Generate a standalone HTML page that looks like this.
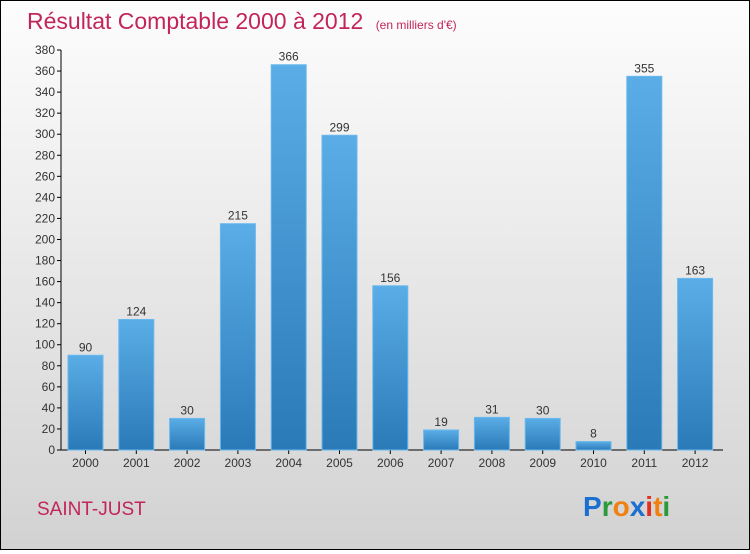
<!DOCTYPE html>
<html><head><meta charset="utf-8"><style>
body{margin:0;width:750px;height:550px;overflow:hidden;font-family:"Liberation Sans",sans-serif}
#wrap{position:absolute;left:0;top:0;width:748px;height:548px;border:1px solid #000;background:linear-gradient(#fdfdfd,#d2d2d2)}
</style></head><body>
<div id="wrap">
<svg width="748" height="548">
<defs><linearGradient id="bg" x1="0" y1="0" x2="0" y2="1"><stop offset="0" stop-color="#5aade6"/><stop offset="1" stop-color="#2a7ab8"/></linearGradient></defs>
<text x="26" y="28" font-size="23" fill="#c2255a">Résultat Comptable 2000 à 2012 <tspan font-size="12" dx="6">(en milliers d'€)</tspan></text>
<g id="axes"></g><g id="bars"></g>
<text x="36" y="514" font-size="19" fill="#c2255a">SAINT-JUST</text>
<text x="582" y="515" font-size="28" font-weight="bold"><tspan fill="#1a6fd0">P</tspan><tspan fill="#2a9a3a">r</tspan><tspan fill="#f08010">o</tspan><tspan fill="#1a6fd0">x</tspan><tspan fill="#e03020">i</tspan><tspan fill="#f08010">t</tspan><tspan fill="#2a9a3a">i</tspan></text>
</svg></div>
<script>
const categories=["2000","2001","2002","2003","2004","2005","2006","2007","2008","2009","2010","2011","2012"];
const values=[90,124,30,215,366,299,156,19,31,30,8,355,163];
const yTicks=[0,20,40,60,80,100,120,140,160,180,200,220,240,260,280,300,320,340,360,380];
const NS="http://www.w3.org/2000/svg";
const y=v=>449-v*(400/380);
const x=i=>84.5+i*50.8;
function mk(t,a,p){const e=document.createElementNS(NS,t);for(const k in a)e.setAttribute(k,a[k]);p.appendChild(e);return e;}
const ax=document.getElementById('axes'),bs=document.getElementById('bars');
let l=mk('line',{x1:60,y1:y(380),x2:60,y2:449,stroke:'#000'},ax);


l=mk('line',{x1:60,y1:449,x2:722,y2:449,stroke:'#000'},ax);


yTicks.forEach(v=>{mk('line',{x1:56,x2:60,y1:y(v),y2:y(v),stroke:'#000'},ax);
const t=mk('text',{x:54,y:y(v)+4,'font-size':12,'text-anchor':'end',fill:'#333'},ax);t.textContent=v;

});
categories.forEach((c,i)=>{const v=values[i];
const r=mk('rect',{x:x(i)-17.5,y:y(v),width:35,height:449-y(v),fill:'url(#bg)',stroke:'#6ab8ee','stroke-width':1},bs);


mk('line',{x1:x(i),x2:x(i),y1:449,y2:453,stroke:'#000'},ax);
const t=mk('text',{x:x(i),y:466,'font-size':12,'text-anchor':'middle',fill:'#333'},ax);t.textContent=c;


const vl=mk('text',{x:x(i),y:y(v)-4,'font-size':12,'text-anchor':'middle',fill:'#333'},bs);vl.textContent=v;

});
</script>
</body></html>
